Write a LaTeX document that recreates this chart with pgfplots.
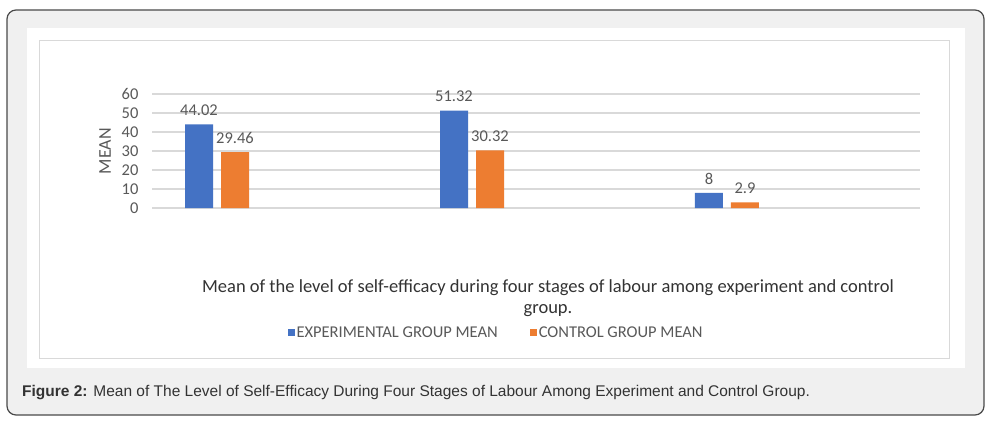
\documentclass[border=0pt]{standalone}
\usepackage{fontspec}
\setmainfont{Carlito}
\newfontfamily\arialfont{Liberation Sans}
\usepackage{pgfplots}
\pgfplotsset{compat=1.18}

\definecolor{expblue}{HTML}{4472C4}
\definecolor{ctrlorange}{HTML}{ED7D31}
\definecolor{gridgray}{HTML}{D9D9D9}
\definecolor{labelgray}{HTML}{595959}
\definecolor{panel}{HTML}{F0F0F0}
\definecolor{edge}{HTML}{4A4A4A}
\definecolor{captxt}{HTML}{333333}

\begin{document}
\begin{tikzpicture}[x=1pt,y=1pt]
  \path[use as bounding box] (0,0) rectangle (991,-421);
  % frame
  \draw[draw=edge, fill=panel, line width=1.2pt, rounded corners=9pt] (7,-10) rectangle (984,-415);
  \fill[white] (27,-28) rectangle (965,-368);
  \draw[draw=gridgray, line width=1pt] (39,-40) rectangle (949,-358);

  \begin{axis}[
      at={(152pt,-208pt)}, anchor=south west,
      scale only axis,
      width=768pt, height=114pt,
      xmin=-0.255, xmax=2.757,
      ymin=0, ymax=60,
      ytick={0,10,...,60},
      xtick=\empty,
      axis line style={draw=none},
      major tick length=0pt,
      ymajorgrids,
      grid style={gridgray, line width=1.3pt},
      /pgf/number format/assume math mode=true,
      tick label style={font=\fontsize{16.5}{18}\selectfont, text=labelgray},
      yticklabel style={xshift=-10pt},
      ylabel={MEAN},
      ylabel style={at={(axis description cs:0,0.5)}, anchor=center, yshift=47pt,
                    font=\fontsize{18}{20}\selectfont, text=labelgray},
      ybar, bar width=28pt,
      nodes near coords,
      point meta=explicit symbolic,
      every node near coord/.append style={font=\fontsize{16.5}{18}\selectfont,
                    text=labelgray, anchor=south, yshift=5pt},
      clip=false,
      legend columns=2,
      legend style={at={(axis description cs:0.448,-1.096)}, anchor=center,
                    draw=none, fill=none, font=\fontsize{16.5}{18}\selectfont,
                    text=labelgray,
                    /tikz/every even column/.append style={column sep=30pt}},
      legend image code/.code={\fill[#1] (0pt,-3.5pt) rectangle (7pt,3.5pt);},
    ]
    % experimental group mean
    \addplot[fill=expblue, draw=none, bar shift=-18pt] coordinates {
      (0,44.02) [44.02] (1,51.32) [51.32] (2,8) [8]
    };
    \addlegendentry{EXPERIMENTAL GROUP MEAN}
    % control group mean
    \addplot[fill=ctrlorange, draw=none, bar shift=18pt] coordinates {
      (0,29.46) [29.46] (1,30.32) [30.32] (2,2.9) [2.9]
    };
    \addlegendentry{CONTROL GROUP MEAN}
  \end{axis}

  \node[align=center, font=\fontsize{18.5}{21}\selectfont, text=captxt] at (548,-298)
    {Mean of the level of self-efficacy during four stages of labour among experiment and control\\group.};

  \node[anchor=west, font=\arialfont\fontsize{15.5}{17}\selectfont, text=captxt, inner sep=0pt] at (22,-393)
    {\textbf{Figure 2:} Mean of The Level of Self-Efficacy During Four Stages of Labour Among Experiment and Control Group.};
\end{tikzpicture}
\end{document}
